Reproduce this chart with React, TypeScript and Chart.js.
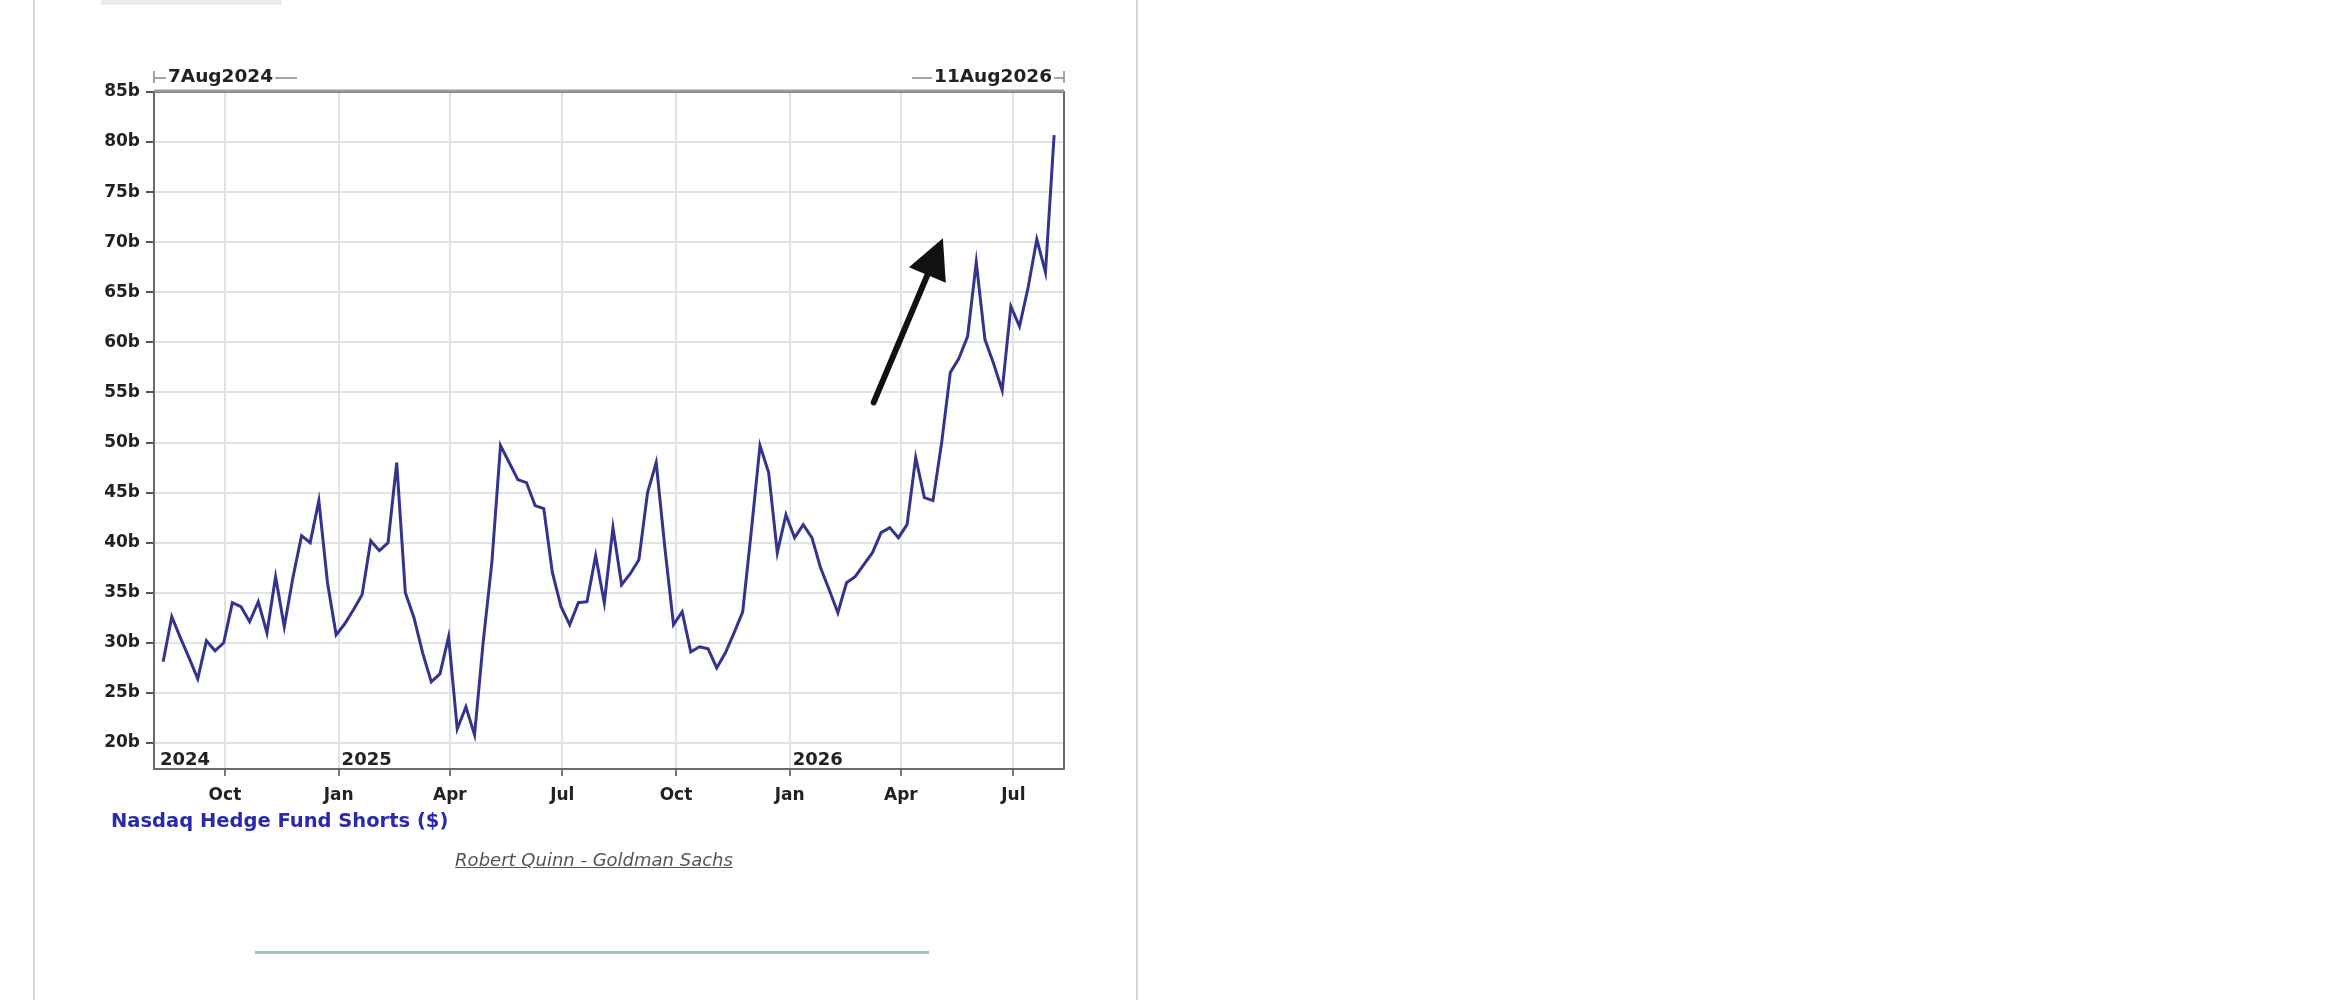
import React, { useEffect, useRef } from "react";
import { Chart, registerables } from "chart.js";

Chart.register(...registerables);

// ---- data ----
const START_DATE = "2024-08-07";
const END_DATE = "2026-08-11";
const FIRST_OBS_DATE = "2024-08-12";
const OBS_STEP_DAYS = 7;

// Nasdaq hedge fund shorts, $bn, weekly
const SHORTS_B = [
  28.1, 32.6, 30.5, 28.5, 26.4, 30.2, 29.2, 30.0, 34.0, 33.6,
  32.1, 34.1, 31.0, 36.6, 31.6, 36.5, 40.7, 40.0, 44.2, 36.0,
  30.8, 31.9, 33.3, 34.8, 40.2, 39.2, 40.0, 48.0, 35.0, 32.5,
  29.0, 26.1, 26.9, 30.6, 21.4, 23.6, 20.8, 30.1, 38.0, 49.7,
  48.0, 46.3, 46.0, 43.7, 43.4, 37.0, 33.6, 31.8, 34.0, 34.1,
  38.7, 34.0, 41.5, 35.8, 36.9, 38.3, 45.0, 48.0, 39.5, 31.8,
  33.1, 29.1, 29.6, 29.4, 27.5, 29.0, 31.0, 33.1, 41.2, 49.7,
  47.0, 39.0, 42.8, 40.5, 41.8, 40.5, 37.5, 35.3, 33.0, 36.0,
  36.6, 37.8, 39.0, 41.0, 41.5, 40.5, 41.8, 48.5, 44.5, 44.2,
  50.0, 57.0, 58.4, 60.6, 68.0, 60.3, 57.9, 55.2, 63.6, 61.6,
  65.5, 70.3, 67.0, 80.7,
];

const Y_TICKS = [20, 25, 30, 35, 40, 45, 50, 55, 60, 65, 70, 75, 80, 85];
const Y_MIN = 17.4;
const Y_MAX = 85;

const X_TICK_DATES = [
  "2024-10-01", "2025-01-01", "2025-04-01", "2025-07-01",
  "2025-10-01", "2026-01-01", "2026-04-01", "2026-07-01",
];
const X_TICK_LABELS = ["Oct", "Jan", "Apr", "Jul", "Oct", "Jan", "Apr", "Jul"];

const YEAR_DATES = ["2024-08-07", "2025-01-01", "2026-01-01"];
const YEAR_LABELS = ["2024", "2025", "2026"];

const START_LABEL = "7Aug2024";
const END_LABEL = "11Aug2026";
const SERIES_LABEL = "Nasdaq Hedge Fund Shorts ($)";
const SOURCE_LABEL = "Robert Quinn - Goldman Sachs";

const ARROW_FROM = { date: "2026-03-10", value: 54.0 };
const ARROW_TO = { date: "2026-05-05", value: 70.4 };

// ---- helpers ----
const DAY_MS = 86400000;
const dayOf = (s: string) =>
  (Date.parse(s + "T00:00:00Z") - Date.parse(START_DATE + "T00:00:00Z")) / DAY_MS;

const FONT = '"DejaVu Sans", Verdana, sans-serif';

export default function App() {
  const ref = useRef<HTMLCanvasElement | null>(null);

  useEffect(() => {
    const canvas = ref.current;
    if (!canvas) return;
    const first = dayOf(FIRST_OBS_DATE);
    const points = SHORTS_B.map((v, i) => ({ x: first + i * OBS_STEP_DAYS, y: v }));
    const tickDays = X_TICK_DATES.map(dayOf);

    const overlay = {
      id: "overlay",
      afterDraw(chart: any) {
        const ctx = chart.ctx;
        const { left, right, top, bottom } = chart.chartArea;
        const xs = chart.scales.x;
        const ys = chart.scales.y;
        ctx.save();
        // frame
        ctx.strokeStyle = "#6a6a6a";
        ctx.lineWidth = 2;
        ctx.strokeRect(left, top, right - left, bottom - top);
        ctx.strokeStyle = "#9a9a9a";
        ctx.lineWidth = 3;
        ctx.beginPath();
        ctx.moveTo(left, top - 1);
        ctx.lineTo(right, top - 1);
        ctx.stroke();

        // top range labels
        ctx.font = "bold 18.5px " + FONT;
        ctx.fillStyle = "#222";
        ctx.textBaseline = "middle";
        const ty = top - 15;
        ctx.textAlign = "left";
        const sW = ctx.measureText(START_LABEL).width;
        ctx.fillText(START_LABEL, left + 14, ty);
        ctx.textAlign = "right";
        const eW = ctx.measureText(END_LABEL).width;
        ctx.fillText(END_LABEL, right - 12, ty);
        ctx.strokeStyle = "#888";
        ctx.lineWidth = 1.5;
        ctx.beginPath();
        ctx.moveTo(left, ty - 6);
        ctx.lineTo(left, ty + 6);
        ctx.moveTo(left, ty + 1);
        ctx.lineTo(left + 12, ty + 1);
        ctx.moveTo(left + 16 + sW, ty + 1);
        ctx.lineTo(left + 38 + sW, ty + 1);
        ctx.moveTo(right - 14 - eW - 20, ty + 1);
        ctx.lineTo(right - 14 - eW, ty + 1);
        ctx.moveTo(right - 10, ty + 1);
        ctx.lineTo(right, ty + 1);
        ctx.moveTo(right, ty - 6);
        ctx.lineTo(right, ty + 6);
        ctx.stroke();

        // year labels inside the plot
        ctx.font = "bold 18px " + FONT;
        ctx.fillStyle = "#222";
        ctx.textAlign = "left";
        ctx.textBaseline = "alphabetic";
        YEAR_DATES.forEach((d, i) => {
          const px = Math.max(left + 4, xs.getPixelForValue(dayOf(d)) + 3);
          ctx.fillText(YEAR_LABELS[i], px, bottom - 4);
        });

        // arrow
        const x0 = xs.getPixelForValue(dayOf(ARROW_FROM.date));
        const y0 = ys.getPixelForValue(ARROW_FROM.value);
        const x1 = xs.getPixelForValue(dayOf(ARROW_TO.date));
        const y1 = ys.getPixelForValue(ARROW_TO.value);
        const ang = Math.atan2(y1 - y0, x1 - x0);
        const headLen = 40;
        const headHalf = 20;
        const bx = x1 - headLen * Math.cos(ang);
        const by = y1 - headLen * Math.sin(ang);
        ctx.strokeStyle = "#111";
        ctx.fillStyle = "#111";
        ctx.lineWidth = 6;
        ctx.lineCap = "round";
        ctx.beginPath();
        ctx.moveTo(x0, y0);
        ctx.lineTo(bx + 4 * Math.cos(ang), by + 4 * Math.sin(ang));
        ctx.stroke();
        ctx.beginPath();
        ctx.moveTo(x1, y1);
        ctx.lineTo(bx + headHalf * Math.sin(ang), by - headHalf * Math.cos(ang));
        ctx.lineTo(bx - headHalf * Math.sin(ang), by + headHalf * Math.cos(ang));
        ctx.closePath();
        ctx.fill();
        ctx.restore();
      },
    };

    const chart = new Chart(canvas, {
      type: "line",
      data: {
        datasets: [
          {
            label: SERIES_LABEL,
            data: points,
            borderColor: "#34348e",
            borderWidth: 3,
            pointRadius: 0,
            tension: 0,
            fill: false,
          },
        ],
      },
      options: {
        animation: false,
        responsive: false,
        maintainAspectRatio: false,
        events: [],
        layout: { padding: { left: 0, top: 92, right: 2328 - 1064, bottom: 1000 - 769 - 60 } },
        plugins: { legend: { display: false }, tooltip: { enabled: false } },
        scales: {
          x: {
            type: "linear",
            min: -2.4,
            max: dayOf(END_DATE),
            afterFit: (s: any) => {
              s.height = 60;
            },
            afterBuildTicks: (s: any) => {
              s.ticks = tickDays.map((v) => ({ value: v }));
            },
            grid: {
              color: "#e2e2e2",
              lineWidth: 2,
              tickColor: "#777",
              tickLength: 7,
              drawTicks: true,
            },
            border: { display: true, color: "#555", width: 2 },
            ticks: {
              autoSkip: false,
              maxRotation: 0,
              padding: 9,
              color: "#222",
              font: { family: FONT, size: 17, weight: "bold" },
              callback: (v: any) => {
                const i = tickDays.indexOf(Number(v));
                return i >= 0 ? X_TICK_LABELS[i] : "";
              },
            },
          },
          y: {
            type: "linear",
            min: Y_MIN,
            max: Y_MAX,
            afterFit: (s: any) => {
              s.width = 154;
            },
            afterBuildTicks: (s: any) => {
              s.ticks = Y_TICKS.map((v) => ({ value: v }));
            },
            grid: {
              color: "#e2e2e2",
              lineWidth: 2,
              tickColor: "#555",
              tickLength: 8,
            },
            border: { display: true, color: "#555", width: 2 },
            ticks: {
              padding: 6,
              color: "#222",
              font: { family: FONT, size: 17, weight: "bold" },
              callback: (v: any) => v + "b",
            },
          },
        },
      },
      plugins: [overlay],
    });
    return () => chart.destroy();
  }, []);

  return (
    <div
      style={{
        position: "fixed",
        left: 0,
        top: 0,
        width: 2328,
        height: 1000,
        background: "#fff",
        overflow: "hidden",
      }}
    >
      <div style={{ position: "absolute", left: 33, top: 0, width: 2, height: 1000, background: "#d6d6d6" }} />
      <div style={{ position: "absolute", left: 1136, top: 0, width: 2, height: 1000, background: "#d6d6d6" }} />
      <div style={{ position: "absolute", left: 101, top: 0, width: 181, height: 5, background: "#ececec" }} />
      <canvas
        ref={ref}
        width={2328}
        height={1000}
        style={{ position: "absolute", left: 0, top: 0, width: 2328, height: 1000 }}
      />
      <div
        style={{
          position: "absolute",
          left: 111,
          top: 809,
          fontFamily: FONT,
          fontWeight: "bold",
          fontSize: 19.5,
          color: "#2a2ab0",
          whiteSpace: "nowrap",
          lineHeight: "24px",
        }}
      >
        {SERIES_LABEL}
      </div>
      <div
        style={{
          position: "absolute",
          left: 434,
          width: 320,
          top: 849,
          textAlign: "center",
          fontFamily: FONT,
          fontStyle: "italic",
          textDecoration: "underline",
          fontSize: 18,
          color: "#555",
          whiteSpace: "nowrap",
          lineHeight: "22px",
        }}
      >
        {SOURCE_LABEL}
      </div>
      <div style={{ position: "absolute", left: 255, top: 951, width: 674, height: 3, background: "#9fc7b2" }} />
    </div>
  );
}
